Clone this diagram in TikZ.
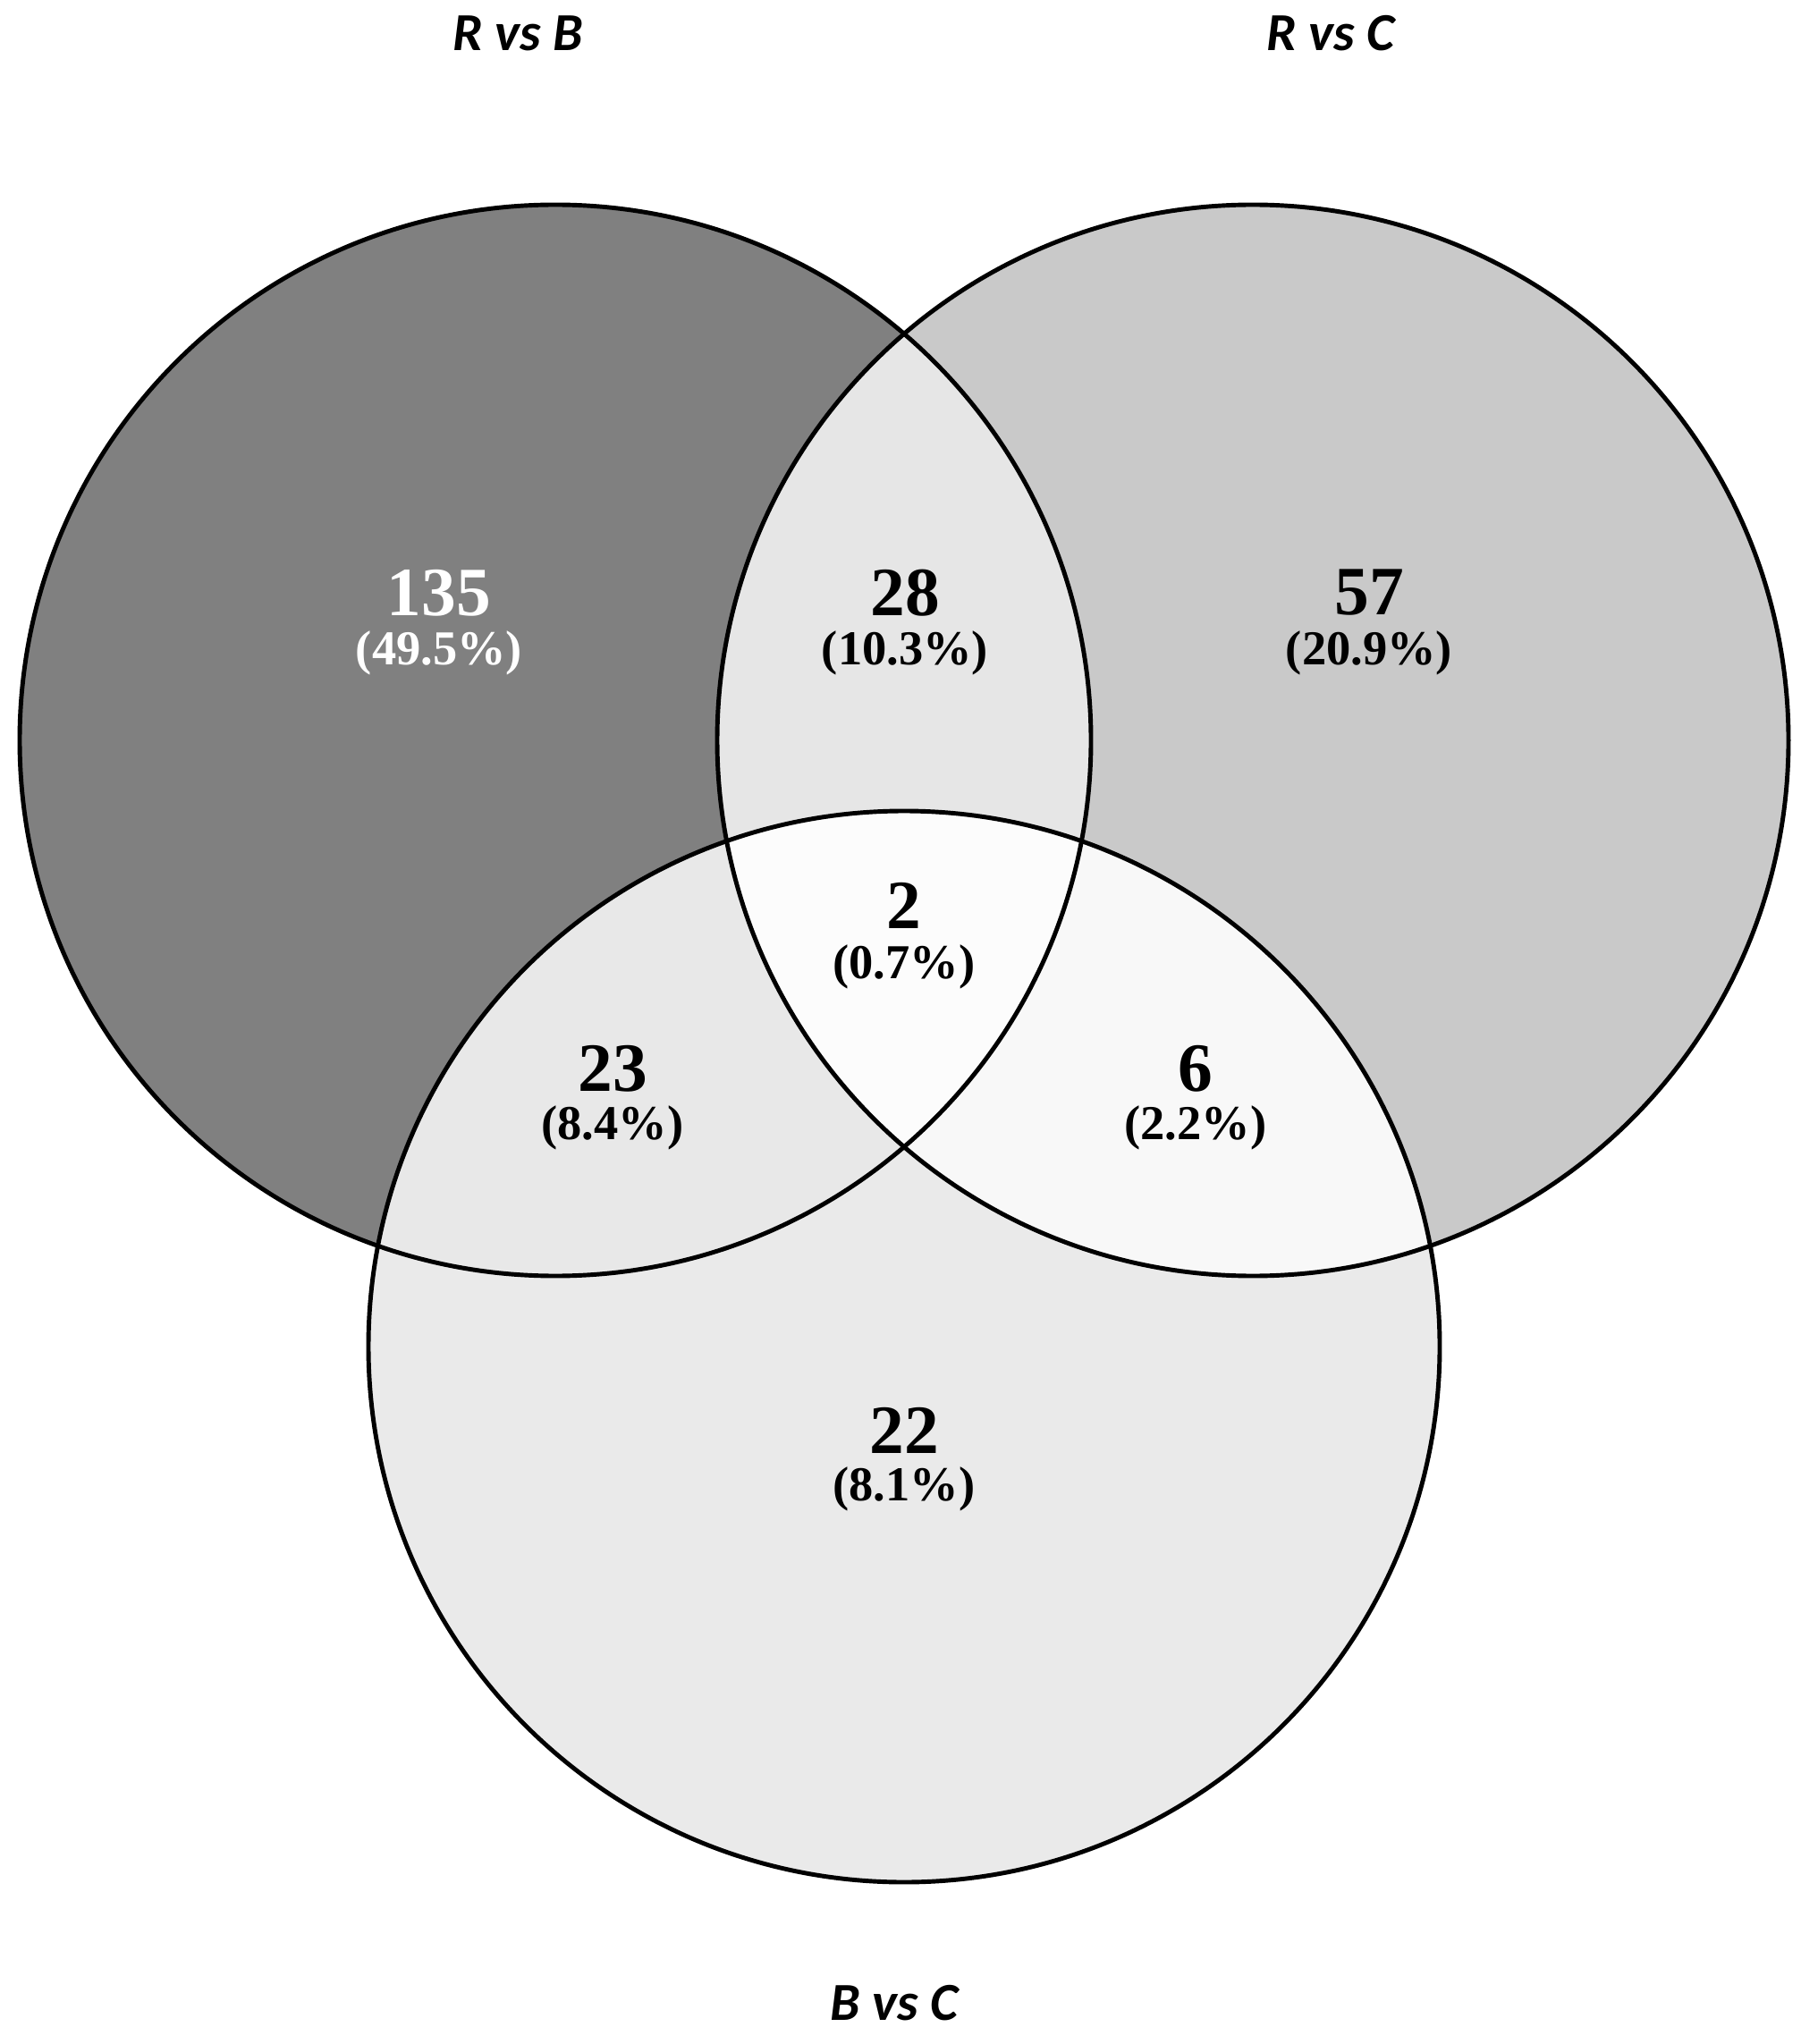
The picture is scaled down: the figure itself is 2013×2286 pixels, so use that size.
\documentclass[tikz,border=0pt]{standalone}
\usepackage{fontspec}
\setmainfont{Liberation Serif}
\newfontfamily\titlefont{Carlito}
\definecolor{cL}{HTML}{808080}
\definecolor{cR}{HTML}{C9C9C9}
\definecolor{cB}{HTML}{EAEAEA}
\definecolor{cLR}{HTML}{E6E6E6}
\definecolor{cLB}{HTML}{E8E8E8}
\definecolor{cRB}{HTML}{F8F8F8}
\definecolor{cLRB}{HTML}{FCFCFC}
\begin{document}
\begin{tikzpicture}[x=0.01cm,y=-0.01cm,
  ring/.style={draw=black,line width=1.4pt},
  num/.style={font=\bfseries\fontsize{22}{24}\selectfont,inner sep=0pt},
  pct/.style={font=\bfseries\fontsize{15.5}{17}\selectfont,inner sep=0pt},
  ttl/.style={font=\titlefont\bfseries\itshape\fontsize{17}{19}\selectfont,inner sep=0pt}]
\useasboundingbox (0,0) rectangle (2013,2286);
\def\rr{599}
\coordinate (cl) at (621,828);
\coordinate (cr) at (1401,828);
\coordinate (cb) at (1011,1506);
% base fills
\fill[cL] (cl) circle[radius=\rr];
\fill[cR] (cr) circle[radius=\rr];
\fill[cB] (cb) circle[radius=\rr];
% pairwise
\begin{scope}
  \clip (cl) circle[radius=\rr];
  \fill[cLR] (cr) circle[radius=\rr];
  \fill[cLB] (cb) circle[radius=\rr];
\end{scope}
\begin{scope}
  \clip (cr) circle[radius=\rr];
  \fill[cRB] (cb) circle[radius=\rr];
\end{scope}
\begin{scope}
  \clip (cl) circle[radius=\rr];
  \clip (cr) circle[radius=\rr];
  \fill[cLRB] (cb) circle[radius=\rr];
\end{scope}
% outlines
\draw[ring] (cl) circle[radius=\rr];
\draw[ring] (cr) circle[radius=\rr];
\draw[ring] (cb) circle[radius=\rr];
% titles
\node[ttl] (tRB) at (579,37) {R vs B};
\node[ttl] (tRC) at (1488,37) {R vs C};
\node[ttl] (tBC) at (1000,2240) {B vs C};
% counts
\node[num,text=white] (n1) at (491,663) {135};
\node[pct,text=white] (p1) at (491,730) {(49.5\%)};
\node[num] (n2) at (1012,663) {28};
\node[pct] (p2) at (1012,730) {(10.3\%)};
\node[num] (n3) at (1531,663) {57};
\node[pct] (p3) at (1531,730) {(20.9\%)};
\node[num] (n4) at (1011,1013) {2};
\node[pct] (p4) at (1011,1081) {(0.7\%)};
\node[num] (n5) at (685,1195) {23};
\node[pct] (p5) at (685,1261) {(8.4\%)};
\node[num] (n6) at (1337,1195) {6};
\node[pct] (p6) at (1337,1261) {(2.2\%)};
\node[num] (n7) at (1011,1600) {22};
\node[pct] (p7) at (1011,1665) {(8.1\%)};
\end{tikzpicture}
\end{document}
